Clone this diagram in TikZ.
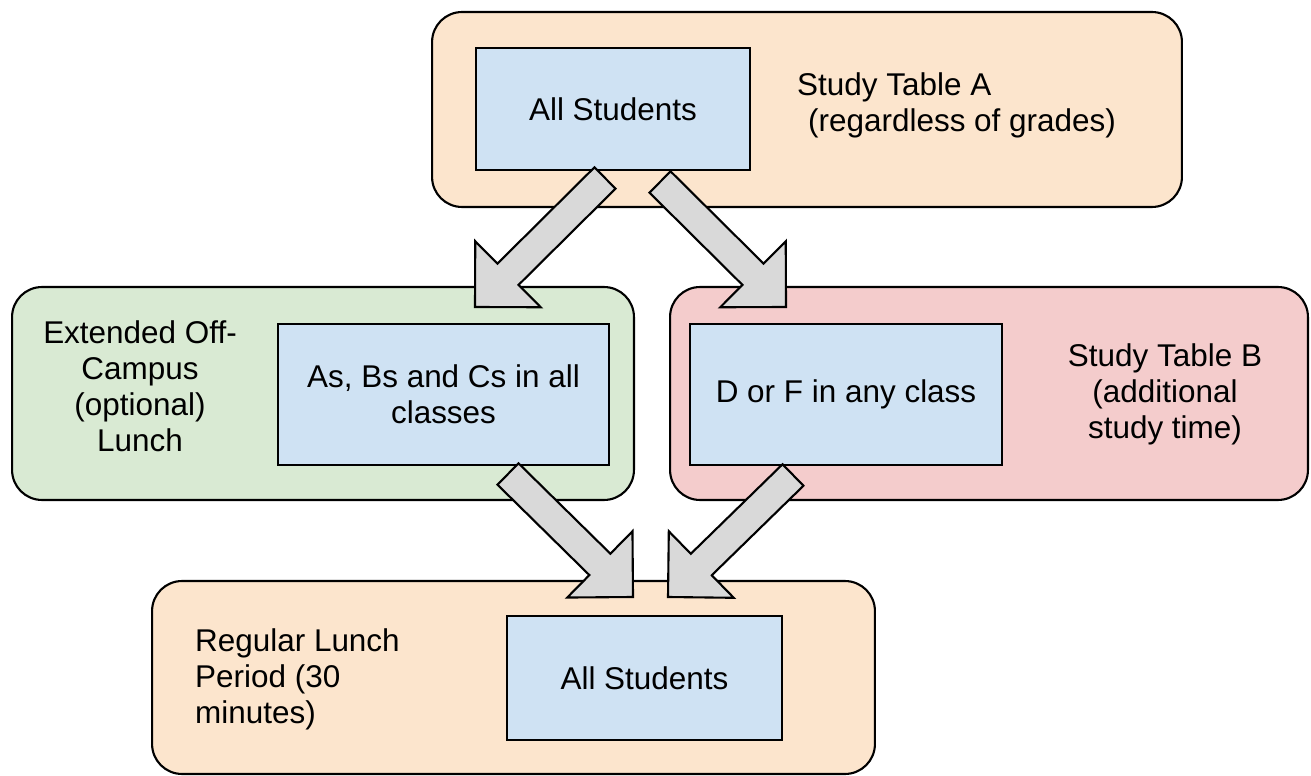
\documentclass[tikz,border=0pt]{standalone}
\usepackage{fontspec}
\setmainfont{Liberation Sans}
\usetikzlibrary{calc}

\definecolor{panelorange}{HTML}{FCE5CD}
\definecolor{panelgreen}{HTML}{D9EAD3}
\definecolor{panelred}{HTML}{F4CCCC}
\definecolor{boxblue}{HTML}{CFE2F3}
\definecolor{arrowgray}{HTML}{D9D9D9}

\begin{document}
\begin{tikzpicture}[
                x=0.02cm, y=-0.02cm,
                every node/.style={font=\fontsize{17.9}{20.5}\selectfont},
                panel/.style={rectangle, rounded corners=0.6cm, draw=black, line width=1.2pt, inner sep=0pt},
                stubox/.style={rectangle, draw=black, line width=1.2pt, fill=boxblue, align=center, inner sep=0pt},
                blockarrow/.style={draw=black, line width=1.2pt, fill=arrowgray, line join=miter}
            ]
                \useasboundingbox (0,0) rectangle (1311,776);

                % Panels
                \node[panel, fill=panelorange, minimum width=15cm, minimum height=3.9cm] (tableA) at (807,109.5) {};
                \node[panel, fill=panelgreen, minimum width=12.44cm, minimum height=4.26cm] (offcampus) at (323,393.5) {};
                \node[panel, fill=panelred, minimum width=12.76cm, minimum height=4.26cm] (tableB) at (989,393.5) {};
                \node[panel, fill=panelorange, minimum width=14.46cm, minimum height=3.86cm] (regular) at (513.5,677.5) {};

                % Student boxes
                \node[stubox, minimum width=5.48cm, minimum height=2.44cm] (allTop) at (613,109) {All Students};
                \node[stubox, minimum width=6.62cm, minimum height=2.82cm] (abc) at (443.5,394.5) {As, Bs and Cs in all\\classes};
                \node[stubox, minimum width=6.24cm, minimum height=2.82cm] (dorf) at (846,394.5) {D or F in any class};
                \node[stubox, minimum width=5.5cm, minimum height=2.48cm] (allBottom) at (644.5,678) {All Students};

                % Panel labels
                \node[anchor=west, align=left] (labelA) at (791,105) {Study Table A\\\hspace*{0.22cm}(regardless of grades)};
                \node[align=center] (labelOff) at (140,386) {Extended Off-\\Campus\\(optional)\\Lunch};
                \node[align=center] (labelB) at (1165,394) {Study Table B\\(additional\\study time)};
                \node[anchor=west, align=left] (labelLunch) at (189,679) {Regular Lunch\\Period (30\\minutes)};

                % Arrow ends
                \coordinate (t1) at (605,178);  \coordinate (h1) at (475,307);
                \coordinate (t2) at (660,182);  \coordinate (h2) at (786,307);
                \coordinate (t3) at (508,474);  \coordinate (h3) at (633,597);
                \coordinate (t4) at (793,475);  \coordinate (h4) at (668,597);

                % Block arrows
                \foreach \t/\h in {t1/h1, t2/h2, t3/h3, t4/h4} {
                    \coordinate (b) at ($(\h)!0.93cm!(\t)$);
                    \filldraw[blockarrow] ($(\t)!0.3cm!90:(\h)$) -- ($(b)!0.3cm!90:(\h)$)
                        -- ($(b)!0.93cm!90:(\h)$) -- (\h) -- ($(b)!0.93cm!-90:(\h)$)
                        -- ($(b)!0.3cm!-90:(\h)$) -- ($(\t)!0.3cm!-90:(\h)$) -- cycle;
                }
            \end{tikzpicture}
\end{document}
